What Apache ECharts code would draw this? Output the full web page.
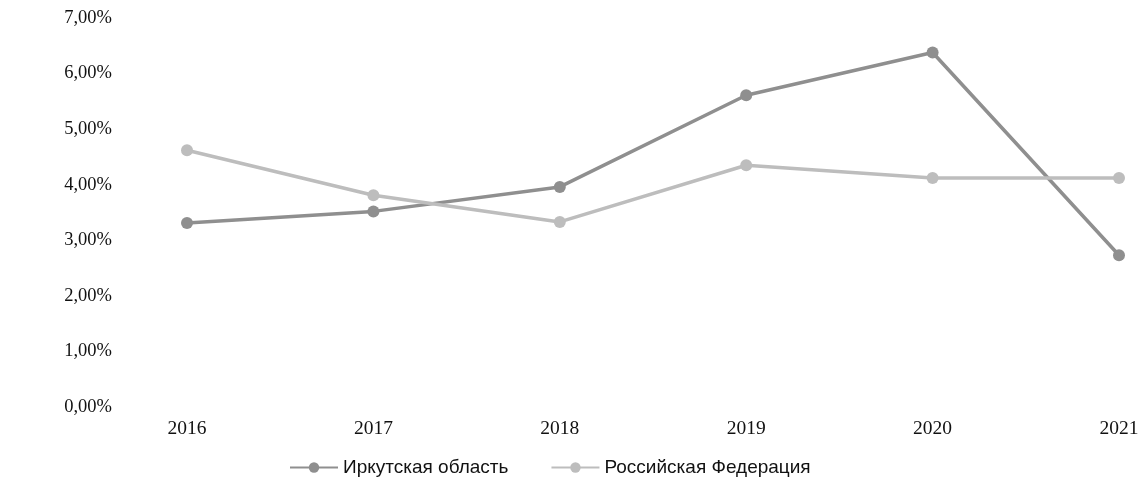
<!DOCTYPE html>
<html>
<head>
<meta charset="utf-8">
<script src="https://cdn.jsdelivr.net/npm/echarts@6/dist/echarts.min.js"></script>
<style>
  html, body { margin: 0; padding: 0; background: #fff; }
  #chart { width: 1145px; height: 490px; }
</style>
</head>
<body>
<div id="chart"></div>
<script>
// Years on the horizontal axis
const years = ['2016', '2017', '2018', '2019', '2020', '2021'];
// Shares, in percent
const irkutsk = [3.31, 3.52, 3.96, 5.61, 6.38, 2.73];
const russia = [4.62, 3.81, 3.33, 4.35, 4.12, 4.12];
const seriesNames = ['Иркутская область', 'Российская Федерация'];

const chart = echarts.init(document.getElementById('chart'));
chart.setOption({
  backgroundColor: '#ffffff',
  animation: false,
  grid: { left: 187, right: 26, top: 18, bottom: 83 },
  legend: {
    bottom: 8,
    left: 284,
    itemWidth: 48,
    itemHeight: 13,
    itemGap: 42,
    textStyle: { fontFamily: 'Liberation Sans', fontSize: 19, color: '#111' },
    data: seriesNames
  },
  xAxis: {
    type: 'category',
    data: years,
    boundaryGap: false,
    axisLine: { show: false },
    axisTick: { show: false },
    axisLabel: { fontFamily: 'Liberation Serif', fontSize: 19.5, color: '#111', margin: 12 }
  },
  yAxis: {
    type: 'value',
    min: 0,
    max: 7,
    interval: 1,
    splitLine: { show: false },
    axisLine: { show: false },
    axisTick: { show: false },
    axisLabel: {
      fontFamily: 'Liberation Serif',
      fontSize: 18.5,
      color: '#111',
      margin: 75,
      formatter: v => v.toFixed(2).replace('.', ',') + '%'
    }
  },
  series: [
    {
      name: seriesNames[0],
      type: 'line',
      data: irkutsk,
      symbol: 'circle',
      symbolSize: 12,
      lineStyle: { color: '#8f8f8f', width: 3.5 },
      itemStyle: { color: '#8f8f8f' }
    },
    {
      name: seriesNames[1],
      type: 'line',
      data: russia,
      symbol: 'circle',
      symbolSize: 12,
      lineStyle: { color: '#bdbdbd', width: 3.5 },
      itemStyle: { color: '#bdbdbd' }
    }
  ]
});
</script>
</body>
</html>
